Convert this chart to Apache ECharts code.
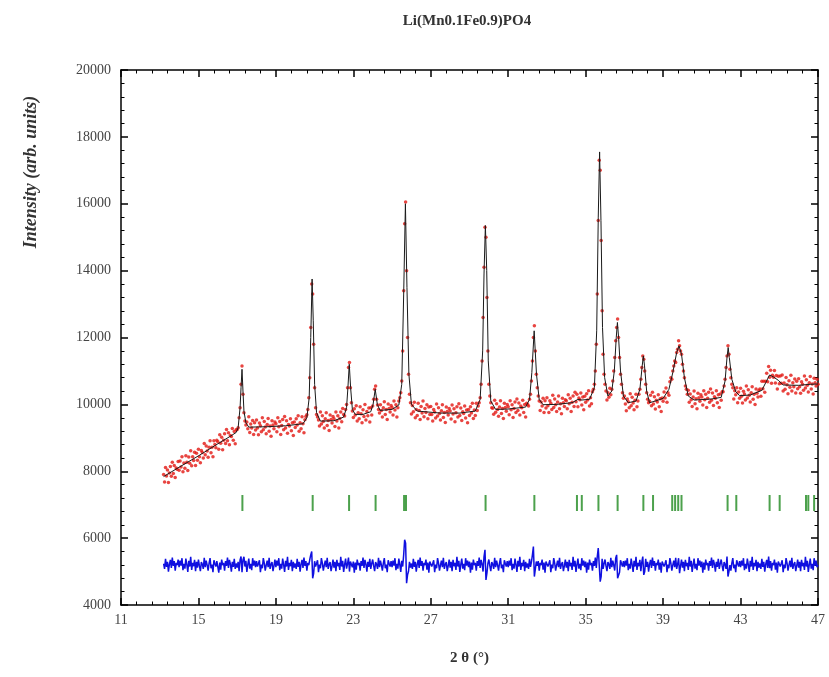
<!DOCTYPE html>
<html>
<head>
<meta charset="utf-8">
<script src="https://cdn.jsdelivr.net/npm/echarts@6/dist/echarts.min.js"></script>
<style>html,body{margin:0;padding:0;background:#fff}#c{width:829px;height:677px}</style>
</head>
<body>
<div id="c"></div>
<script>
// ---- Data ----
const chartTitle = 'Li(Mn0.1Fe0.9)PO4';
const xName = '2 θ (°)';
const yName = 'Intensity (arb. units)';
const xMin = 11, xMax = 47, xInterval = 4;
const yMin = 4000, yMax = 20000, yInterval = 2000;

// Observed intensities (red dots), 2θ from 13.20 in steps of 0.05
const obsStart = 13.2, obsStep = 0.05;
const obsIntensity = [
  // 13.20 - 13.95
  7900,7675,8110,7860,8035,7660,7950,8145,7850,8270,7935,8170,7815,8095,8060,8295,
  // 14
  8030,8305,8130,8430,7985,8250,8090,8465,8270,8020,8425,8240,8615,8165,8430,8325,8570,8170,8535,8330,
  // 15
  8660,8435,8255,8620,8560,8395,8830,8490,8755,8605,8420,8715,8915,8550,8720,8435,8910,8800,8705,8925,
  // 16
  8880,8655,9090,8840,9015,8640,8930,9125,8830,9245,8915,9150,8795,9070,9040,9275,8930,9190,8825,9240,
  // 17
  9250,9300,9600,9900,10600,11150,10300,9750,9500,9380,9470,9270,9630,9160,9410,9290,9520,9100,9450,9230,
  // 18
  9530,9290,9090,9440,9360,9180,9600,9240,9490,9320,9120,9400,9580,9200,9350,9050,9510,9380,9270,9470,
  // 19
  9420,9180,9600,9330,9490,9100,9370,9550,9240,9640,9290,9510,9140,9400,9350,9570,9210,9450,9070,9470,
  // 20
  9310,9570,9380,9660,9200,9450,9270,9630,9420,9150,9540,9640,9690,9850,10200,10800,12300,13600,13300,11800,
  // 21
  10500,9900,9700,9620,9530,9350,9770,9410,9660,9490,9290,9570,9750,9370,9520,9220,9680,9550,9440,9640,
  // 22
  9570,9340,9770,9500,9660,9290,9580,9770,9480,9880,9700,9650,9850,10000,10500,11100,11250,10500,10050,9800,
  // 23
  9610,9870,9680,9960,9500,9750,9570,9930,9720,9450,9840,9640,10000,9530,9790,9660,9890,9470,9900,9680,
  // 24
  9950,10150,10450,10550,10150,9980,9850,9740,9990,9820,9620,9900,10080,9700,9850,9550,10010,9880,9770,9970,
  // 25
  9910,9680,10100,9830,9990,9620,9900,10100,10200,10350,10700,11600,13400,15400,16050,14000,12000,10900,10300,10050,
  // 26
  9710,9970,9780,10060,9600,9850,9670,10030,9820,9550,9940,9740,10100,9630,9880,9760,9990,9570,9920,9700,
  // 27
  9940,9700,9500,9850,9770,9590,10010,9650,9900,9730,9530,9810,9990,9610,9760,9460,9920,9790,9680,9880,
  // 28
  9800,9560,9980,9710,9870,9480,9750,9930,9620,10020,9670,9890,9520,9780,9730,9950,9590,9830,9450,9850,
  // 29
  9670,9930,9740,10030,9580,9830,9670,10030,9820,9950,10050,10200,10600,11300,12600,14100,15300,15000,13200,11600,
  // 30
  10600,10250,10050,9900,9885,9705,10125,9765,10015,9845,9645,9925,10105,9725,9875,9575,10035,9905,9795,9995,
  // 31
  9930,9690,10110,9840,9990,9610,9880,10070,9760,10160,9820,10040,9680,9950,9900,10120,9760,10000,9620,10030,
  // 32
  10000,9950,10150,10300,10700,11300,12000,12350,11600,10900,10500,10250,10100,9820,10070,9950,10180,9760,10110,9890,
  // 33
  10200,9960,9760,10110,10030,9850,10270,9910,10160,9990,9790,10070,10250,9870,10020,9720,10180,10050,9940,10140,
  // 34
  10110,9870,10290,10020,10180,9790,10060,10250,9940,10360,10080,10300,9930,10190,10140,10340,9980,10220,9840,10240,
  // 35
  10060,10320,10130,10410,9950,10200,10020,10380,10450,10600,11000,11800,13300,15500,17300,17000,14900,12800,11500,10900,
  // 36
  10600,10400,10130,10350,10210,10480,10290,10450,10700,11000,11400,11900,12300,12550,12000,11400,10900,10600,10350,10180,
  // 37
  10250,10010,9810,10160,10080,9900,10320,9960,10210,10040,9840,10120,10300,9930,10100,10300,10450,10750,11100,11450,
  // 38
  11350,11000,10600,10350,10150,10050,10090,10270,9960,10360,10010,10230,9860,10120,10070,10290,9930,10170,9790,10190,
  // 39
  10090,10370,10190,10490,10060,10350,10270,10680,10800,10750,11000,11150,11300,11250,11550,11650,11900,11750,11600,11500,
  // 40
  11200,11000,10800,10550,10450,10300,10420,10060,10310,10140,9940,10220,10400,10020,10170,9870,10330,10200,10090,10290,
  // 41
  10220,9980,10410,10140,10300,9910,10180,10360,10060,10460,10120,10340,9970,10230,10180,10410,10050,10290,9910,10310,
  // 42
  10120,10380,10380,10550,10750,11100,11450,11750,11500,11050,10800,10600,10500,10160,10410,10290,10500,10050,10370,10180,
  // 43
  10480,10240,10040,10390,10310,10130,10550,10190,10440,10270,10070,10350,10530,10150,10300,10000,10460,10330,10220,10420,
  // 44
  10460,10240,10690,10470,10690,10360,10690,10930,10680,11130,10810,11020,10630,10870,10810,11010,10640,10860,10460,10840,
  // 45
  10620,10850,10630,10880,10400,10640,10450,10805,10590,10320,10710,10510,10870,10400,10650,10530,10760,10340,10690,10470,
  // 46
  10770,10530,10330,10680,10600,10420,10850,10490,10740,10570,10370,10650,10830,10460,10610,10310,10780,10650,10550,10750,
  // 47.00
  10600
];

// Calculated profile (black line): [2θ, intensity]
const calcProfile = [
  [13.2,7840],[14.0,8120],[15.0,8460],[16.0,8820],[16.6,9030],[16.95,9160],[17.05,9300],[17.15,9900],[17.2,10500],[17.25,11050],[17.3,10400],[17.35,9800],[17.45,9450],[17.6,9320],
  [18.5,9330],[19.5,9360],[20.4,9420],[20.6,9600],[20.72,10200],[20.8,12000],[20.87,13750],[20.93,12500],[21.0,10600],[21.1,9750],[21.3,9500],
  [22.0,9510],[22.5,9620],[22.65,9900],[22.72,10500],[22.79,11200],[22.86,10500],[22.95,9850],[23.1,9700],[23.5,9700],[23.9,9780],
  [24.02,10000],[24.13,10450],[24.24,10000],[24.38,9820],[25.0,9850],[25.35,9980],[25.5,10600],[25.6,13300],[25.69,16000],[25.77,13500],[25.87,10900],
  [26.0,10000],[26.3,9800],[27.5,9740],[28.5,9740],[29.3,9800],[29.55,10150],[29.68,11600],[29.75,13900],[29.82,15350],[29.89,14000],[29.97,11300],
  [30.1,10100],[30.35,9850],[31.0,9860],[31.9,9920],[32.1,10150],[32.22,10950],[32.34,12200],[32.46,10900],[32.6,10150],[32.8,9990],
  [33.5,10000],[34.3,10050],[34.6,10150],[34.8,10130],[35.2,10150],[35.45,10500],[35.57,12200],[35.65,15600],[35.72,17550],[35.79,15500],[35.87,12300],[35.98,10800],
  [36.15,10250],[36.35,10400],[36.48,11000],[36.58,12000],[36.64,12450],[36.7,12000],[36.8,11000],[36.95,10250],
  [37.2,10050],[37.6,10100],[37.8,10450],[37.92,11150],[37.98,11450],[38.04,11150],[38.15,10400],[38.3,10050],[38.6,10100],
  [39.0,10180],[39.3,10450],[39.5,10950],[39.7,11550],[39.82,11750],[39.95,11500],[40.1,10800],[40.3,10250],[40.6,10130],
  [41.5,10160],[42.0,10210],[42.2,10700],[42.3,11400],[42.36,11700],[42.42,11400],[42.55,10750],[42.75,10380],[42.95,10260],
  [43.5,10280],[44.1,10420],[44.3,10650],[44.5,10880],[44.7,10820],[44.95,10720],[45.2,10580],[46.0,10570],[46.6,10600],[47.0,10610]
];

// Difference curve (blue), 2θ from 13.20 in steps of 0.05
const diffStart = 13.2, diffStep = 0.05;
const diffIntensity = [
  // 13.20 - 13.95
  5240,5080,5380,5140,5290,5000,5220,5350,5110,5420,5170,5310,5030,5260,5190,5360,
  // 14
  5130,5330,5180,5400,5040,5230,5090,5390,5210,4990,5320,5150,5440,5050,5260,5160,5350,5010,5290,5120,
  // 15
  5360,5170,5010,5280,5220,5080,5410,5130,5330,5190,5030,5250,5400,5100,5210,4980,5340,5240,5150,5310,
  // 16
  5300,4970,5270,5060,5360,5190,5260,5030,5310,5170,5420,5110,5350,5220,5000,5290,5140,5380,5080,5240,
  // 17
  5120,5290,5010,5350,5450,4980,5350,5440,5150,5320,4990,5210,5390,5090,5230,5040,5400,5180,5330,5130,
  // 18
  5310,5150,5240,5340,4980,5210,5100,5400,5250,5030,5190,5330,5130,5410,5080,5220,5280,5010,5170,5360,
  // 19
  5130,5330,5180,5400,5040,5230,5090,5390,5210,4990,5320,5150,5440,5050,5260,5160,5350,5010,5290,5120,
  // 20
  5240,5080,5380,5140,5290,5000,5220,5350,5110,5420,5170,5310,5030,5260,5190,5360,5500,5600,4800,4950,
  // 21
  5310,5150,5240,5340,4980,5210,5100,5400,5250,5030,5190,5330,5130,5410,5080,5220,5280,5010,5170,5360,
  // 22
  5120,5290,5010,5350,5160,5260,5050,5440,5150,5320,4990,5210,5390,5090,5230,5420,5000,5300,5330,5130,
  // 23
  5300,4970,5270,5060,5360,5190,5260,5030,5310,5170,5420,5110,5350,5220,5000,5290,5140,5380,5080,5240,
  // 24
  5360,5170,5010,5280,5220,5080,5410,5130,5330,5190,5030,5250,5400,5100,5210,4980,5340,5240,5150,5310,
  // 25
  5130,5330,5180,5400,5040,5230,5090,5390,5210,4990,5320,5150,5500,5950,5850,4650,4900,5010,5290,5120,
  // 26
  5240,5080,5380,5140,5290,5000,5220,5350,5110,5420,5170,5310,5030,5260,5190,5360,5060,5270,4970,5300,
  // 27
  5310,5150,5240,5340,4980,5210,5100,5400,5250,5030,5190,5330,5130,5410,5080,5220,5280,5010,5170,5360,
  // 28
  5120,5290,5010,5350,5160,5260,5050,5440,5150,5320,4990,5210,5390,5090,5230,5040,5400,5180,5330,5130,
  // 29
  5300,4970,5270,5060,5360,5190,5260,5030,5310,5170,5420,5110,5350,5220,5000,5450,5650,4750,4950,5240,
  // 30
  5360,5170,5010,5280,5220,5080,5410,5130,5330,5190,5030,5250,5400,5100,5210,4980,5340,5240,5150,5310,
  // 31
  5130,5330,5180,5400,5040,5230,5090,5390,5210,4990,5320,5150,5440,5050,5260,5160,5350,5010,5290,5120,
  // 32
  5240,5080,5380,5140,5290,5500,5750,4850,4900,5300,5170,5310,5030,5260,5190,5360,5060,5270,4970,5300,
  // 33
  5310,5150,5240,5340,4980,5210,5100,5400,5250,5030,5190,5330,5130,5410,5080,5220,5280,5010,5170,5360,
  // 34
  5120,5290,5010,5350,5160,5260,5050,5440,5150,5320,4990,5210,5390,5090,5230,5040,5400,5180,5330,5130,
  // 35
  5300,4970,5270,5060,5360,5190,5260,5030,5310,5170,5420,5110,5450,5700,5650,4700,4850,5380,5080,5240,
  // 36
  5360,5170,5010,5280,5220,5080,5410,5130,5330,5190,5030,5400,5500,4800,4850,4980,5340,5240,5150,5310,
  // 37
  5130,5330,5180,5400,5040,5230,5090,5390,5210,4990,5320,5150,5440,5050,5260,5160,5350,5010,5290,5450,
  // 38
  4900,5000,5380,5140,5290,5000,5220,5350,5110,5420,5170,5310,5030,5260,5190,5360,5060,5270,4970,5300,
  // 39
  5310,5150,5240,5340,4980,5210,5100,5400,5250,5030,5190,5330,5130,5410,5080,5220,5400,4950,5170,5360,
  // 40
  5120,5290,5010,5350,5160,5260,5050,5440,5150,5320,4990,5210,5390,5090,5230,5040,5400,5180,5330,5130,
  // 41
  5300,4970,5270,5060,5360,5190,5260,5030,5310,5170,5420,5110,5350,5220,5000,5290,5140,5380,5080,5240,
  // 42
  5360,5170,5010,5280,5220,5080,5450,4850,5000,5190,5030,5250,5400,5100,5210,4980,5340,5240,5150,5310,
  // 43
  5130,5330,5180,5400,5040,5230,5090,5390,5210,4990,5320,5150,5440,5050,5260,5160,5350,5010,5290,5120,
  // 44
  5240,5080,5380,5140,5290,5000,5220,5350,5110,5450,5100,5310,5030,5260,5190,5360,5060,5270,4970,5300,
  // 45
  5310,5150,5240,5340,4980,5210,5100,5400,5250,5030,5190,5330,5130,5410,5080,5220,5280,5010,5170,5360,
  // 46
  5120,5290,5010,5350,5160,5260,5050,5440,5150,5320,4990,5210,5390,5090,5230,5040,5400,5180,5330,5130,
  // 47.00
  5200
];

// Bragg reflection positions (green ticks)
const braggTheta = [17.27,20.90,22.78,24.15,25.62,25.72,29.83,32.35,34.55,34.80,35.66,36.65,37.98,38.48,39.47,39.62,39.78,39.95,42.33,42.78,44.50,45.02,46.38,46.50,46.80];
const braggLevel = 7050;

// ---- Build series data ----
const obsData = obsIntensity.map((v, i) => [+(obsStart + i * obsStep).toFixed(2), v]);
const diffData = diffIntensity.map((v, i) => [+(diffStart + i * diffStep).toFixed(2), v]);
const braggData = braggTheta.map(t => [t, braggLevel]);

const serif = '"Liberation Serif", "DejaVu Serif", serif';
const axisLineStyle = { color: '#000', width: 1.5 };

function xAxisCfg(pos, labels) {
  return {
    type: 'value', position: pos, min: xMin, max: xMax, interval: xInterval,
    axisLine: { show: true, onZero: false, lineStyle: axisLineStyle },
    axisTick: { show: true, inside: true, length: 7, lineStyle: { color: '#000', width: 1.5 } },
    minorTick: { show: true, splitNumber: 5, length: 3.5, lineStyle: { color: '#000', width: 1 } },
    splitLine: { show: false },
    axisLabel: { show: labels, color: '#444', fontFamily: serif, fontSize: 14, margin: 8,
                 formatter: v => String(v) }
  };
}
function yAxisCfg(pos, labels) {
  return {
    type: 'value', position: pos, min: yMin, max: yMax, interval: yInterval,
    axisLine: { show: true, onZero: false, lineStyle: axisLineStyle },
    axisTick: { show: true, inside: true, length: 7, lineStyle: { color: '#000', width: 1.5 } },
    minorTick: { show: true, splitNumber: 5, length: 3.5, lineStyle: { color: '#000', width: 1 } },
    splitLine: { show: false },
    axisLabel: { show: labels, color: '#444', fontFamily: serif, fontSize: 14, margin: 10,
                 formatter: v => String(v) }
  };
}

const xBottom = xAxisCfg('bottom', true);
xBottom.name = xName;
xBottom.nameLocation = 'middle';
xBottom.nameGap = 46;
xBottom.nameTextStyle = { fontFamily: serif, fontWeight: 'bold', fontSize: 15, color: '#333' };

const chart = echarts.init(document.getElementById('c'), null, { renderer: 'canvas' });
chart.setOption({
  animation: false,
  backgroundColor: '#fff',
  title: {
    text: chartTitle, left: 462, top: 9, textAlign: 'center',
    textStyle: { fontFamily: serif, fontWeight: 'bold', fontSize: 15, color: '#333' }
  },
  grid: { left: 121, right: 11, top: 70, bottom: 72, containLabel: false },
  xAxis: [xBottom, xAxisCfg('top', false)],
  yAxis: [yAxisCfg('left', true), yAxisCfg('right', false)],
  graphic: [{
    type: 'text', x: 31, y: 172, rotation: Math.PI / 2,
    style: {
      text: yName, fill: '#333', font: 'italic bold 18px ' + serif,
      textAlign: 'center', textVerticalAlign: 'middle'
    }
  }],
  series: [
    {
      type: 'scatter', name: 'obs', data: obsData, symbol: 'circle', symbolSize: 3.5,
      itemStyle: { color: 'rgb(226,22,18)' }, z: 2
    },
    {
      type: 'line', name: 'calc', data: calcProfile, showSymbol: false, symbol: 'none',
      lineStyle: { color: '#1a1a1a', width: 1 }, z: 3
    },
    {
      type: 'line', name: 'diff', data: diffData, showSymbol: false, symbol: 'none',
      lineStyle: { color: '#1010e0', width: 1.5 }, z: 2
    },
    {
      type: 'scatter', name: 'bragg', data: braggData, symbol: 'rect', symbolSize: [2, 16],
      itemStyle: { color: '#1f8a1f' }, z: 2
    }
  ]
});
</script>
</body>
</html>
